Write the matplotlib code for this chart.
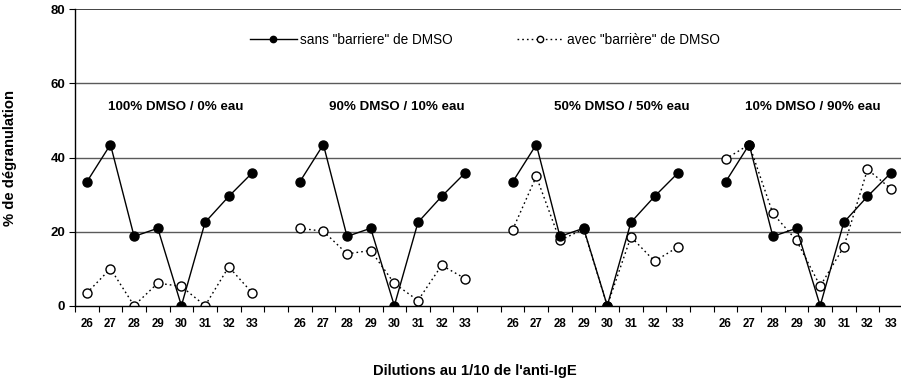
import numpy as np
import matplotlib.pyplot as plt

plt.rcParams['font.family'] = ['Liberation Sans', 'DejaVu Sans']

dilutions = ['26', '27', '28', '29', '30', '31', '32', '33']
groups = ['100% DMSO / 0% eau', '90% DMSO / 10% eau',
          '50% DMSO / 50% eau', '10% DMSO / 90% eau']

# sans "barriere" de DMSO (identique dans chaque groupe)
sans_1 = [33.4, 43.5, 18.7, 20.9, 0.0, 22.5, 29.5, 35.9]
sans_2 = [33.4, 43.5, 18.7, 20.9, 0.0, 22.5, 29.5, 35.9]
sans_3 = [33.4, 43.5, 18.7, 20.9, 0.0, 22.5, 29.5, 35.9]
sans_4 = [33.4, 43.5, 18.7, 20.9, 0.0, 22.5, 29.5, 35.9]

# avec "barrière" de DMSO
avec_1 = [3.4, 10.0, 0.0, 6.1, 5.2, 0.0, 10.5, 3.4]
avec_2 = [20.9, 20.1, 14.0, 14.9, 6.0, 1.4, 10.9, 7.3]
avec_3 = [20.5, 34.9, 17.6, 20.7, 0.0, 18.6, 12.0, 15.9]
avec_4 = [39.6, 43.5, 24.9, 17.6, 5.3, 15.9, 36.8, 31.5]

sans = [sans_1, sans_2, sans_3, sans_4]
avec = [avec_1, avec_2, avec_3, avec_4]

# one empty category between groups -> NaN breaks the line
def join(series):
    out = []
    for k, s in enumerate(series):
        out += s
        if k < len(series) - 1:
            out.append(np.nan)
    return np.array(out, dtype=float)

y_sans = join(sans)
y_avec = join(avec)
x = np.arange(len(y_sans))

fig = plt.figure(figsize=(9.01, 3.79), dpi=100)
ax = fig.add_axes([0.0832, 0.1934, 0.919, 0.782])

for yv in [20, 40, 60]:
    ax.axhline(yv, color='#5a5a5a', lw=1.0, zorder=0)
ax.axhline(80, color='#222222', lw=1.2, zorder=0)

ax.plot(x, y_sans, color='black', lw=1.0, marker='o', ms=6.5,
        mfc='black', mec='black', label='sans "barriere" de DMSO', zorder=3)
ax.plot(x, y_avec, color='black', lw=1.0, ls=(0, (1.2, 2.2)), marker='o', ms=6.5,
        mfc='white', mec='black', mew=1.0, label='avec "barrière" de DMSO', zorder=2)

ax.set_xlim(-0.5, len(x) - 0.5)
ax.set_ylim(0, 80)

# tick labels at categories, tick marks between categories
labels = []
for k in range(len(groups)):
    labels += dilutions
    if k < len(groups) - 1:
        labels.append('')
ax.set_xticks(x)
ax.set_xticklabels(labels, fontsize=8.3, fontweight='bold')
ax.tick_params(axis='x', length=0, pad=9)
ax.set_xticks(np.arange(-0.5, len(x) + 0.5, 1), minor=True)
ax.tick_params(axis='x', which='minor', length=4, direction='out', width=0.8)

ax.set_yticks([0, 20, 40, 60, 80])
ax.set_yticklabels(['0', '20', '40', '60', '80'], fontsize=9.5, fontweight='bold')
ax.tick_params(axis='y', length=4, width=0.8, direction='out', pad=3)

for s in ['top', 'right']:
    ax.spines[s].set_visible(False)
ax.spines['left'].set_linewidth(1.0)
ax.spines['bottom'].set_linewidth(1.0)

label_x = [3.77, 13.1, 22.6, 30.7]
for gx, g in zip(label_x, groups):
    ax.text(gx, 53.7, g, ha='center', va='center', fontsize=9.6, fontweight='bold')

ax.legend(loc='center left', bbox_to_anchor=(0.2113, 0.896), ncol=2, frameon=False,
          fontsize=9.8, handlelength=3.45, columnspacing=4.7, handletextpad=0.25,
          borderpad=0, borderaxespad=0, markerscale=0.7)

ax.set_ylabel('% de dégranulation', fontsize=10.6, fontweight='bold', labelpad=24)
fig.text(0.527, 0.021, "Dilutions au 1/10 de l'anti-IgE", ha='center', va='center',
         fontsize=10.6, fontweight='bold')

fig.savefig('out.png', dpi=100)
